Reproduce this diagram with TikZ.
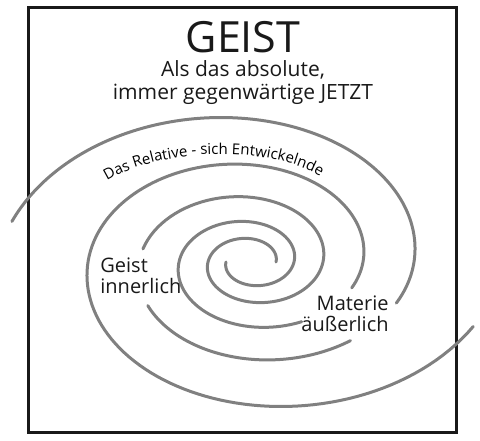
\documentclass[tikz,border=0pt]{standalone}
\usepackage{fontspec}
\setmainfont{Open Sans}
\usetikzlibrary{positioning,decorations.text}

\definecolor{spiralgray}{RGB}{128,128,128}
\definecolor{ink}{RGB}{25,25,25}

\begin{document}
\begin{tikzpicture}[x=1pt, y=-1pt, thick,
    arm/.style={draw=spiralgray, line width=3pt, line cap=round},
    spiraltext/.style={text=ink, inner sep=0pt, font=\fontsize{20}{21.5}\selectfont},
    declare function={armrad(\t)=25+25*\t+22*\t*\t+120*max(0,\t-2)^2;}]
    \useasboundingbox (0,0) rectangle (480,440);
    \draw [ink, line width=3pt] (28,7) rectangle (456,432);

    % title
    \node [text=ink, font=\fontsize{43}{44}\selectfont] (geist) at (243,37) {GEIST};
    \node [text=ink, align=center, font=\fontsize{21}{23}\selectfont, below=0pt of geist] (jetzt) {Als das absolute,\\immer gegenwärtige JETZT};

    % two arms of the spiral, cut where the labels sit
    \foreach \a/\b/\p in {0/1.475/0, 1.585/1.867/0, 1.94/2.465/0, 0/1.3375/180, 1.445/2.44/180}
        \draw [arm] plot [domain=\a:\b, samples=150, variable=\t]
            ({251+armrad(\t)*cos(360*\t+\p)}, {262-armrad(\t)/1.4*sin(360*\t+\p)});

    \node [spiraltext, align=left, anchor=north west] (innen) at (100,257) {Geist\\innerlich};
    \node [spiraltext, align=right, anchor=north east] (aussen) at (389,295) {Materie\\äußerlich};
    \path [decorate, decoration={text along path, text align=center,
        text={|\fontsize{15}{16}\selectfont|Das Relative - sich Entwickelnde}}]
        (94,190) .. controls (150,143) and (290,143) .. (333,186);
\end{tikzpicture}
\end{document}
